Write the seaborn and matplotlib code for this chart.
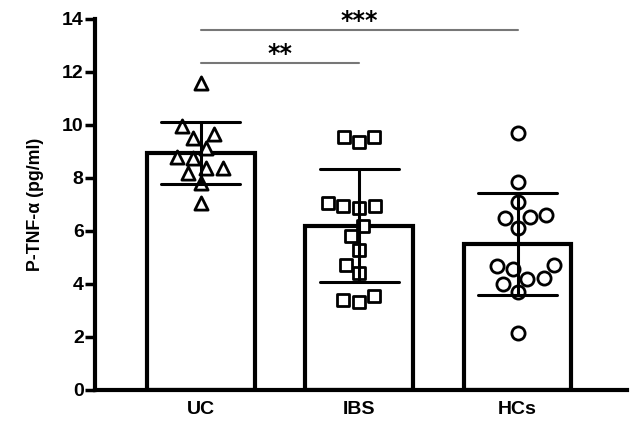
import matplotlib
matplotlib.use('Agg')
import matplotlib.pyplot as plt
import seaborn as sns
import pandas as pd

# values (pg/ml)
groups = ['UC', 'IBS', 'HCs']
markers = ['^', 's', 'o']
uc_values = [11.6, 9.96, 9.66, 9.5, 9.13, 8.75, 8.8, 8.37, 8.18, 8.37, 7.8, 7.05]
ibs_values = [9.55, 9.36, 9.55, 7.05, 6.86, 6.93, 6.93, 6.2, 5.8, 5.3,
              4.73, 4.43, 3.56, 3.3, 3.4]
hcs_values = [9.7, 7.84, 7.08, 6.6, 6.48, 6.52, 6.1, 4.73, 4.55, 4.66,
              4.24, 4.2, 4.0, 3.7, 2.16]
y_ticks = [0, 2, 4, 6, 8, 10, 12, 14]

# significance brackets: (from group, to group, height, label)
brackets = [(0, 1, 12.35, '**'), (0, 2, 13.6, '***')]

df = pd.DataFrame({
    'group': ['UC'] * len(uc_values) + ['IBS'] * len(ibs_values) + ['HCs'] * len(hcs_values),
    'value': uc_values + ibs_values + hcs_values,
})

sns.set_style('ticks', {'axes.edgecolor': 'black', 'text.color': 'black',
                        'axes.labelcolor': 'black', 'xtick.color': 'black',
                        'ytick.color': 'black'})
plt.rcParams['font.family'] = ['Liberation Sans', 'DejaVu Sans']

fig = plt.figure(figsize=(6.32, 4.22), dpi=100)
ax = fig.add_axes([0.150, 0.076, 0.842, 0.879])

sns.barplot(
    data=df, x='group', y='value', order=groups,
    estimator='mean', errorbar='sd', capsize=0.5, width=0.68,
    color='white', edgecolor='black', linewidth=3,
    err_kws={'color': 'black', 'linewidth': 2.2, 'zorder': 5},
    ax=ax
)

for g, m in zip(groups, markers):
    sub = df[df['group'] == g]
    sns.swarmplot(
        data=sub, x='group', y='value', order=groups,
        marker=m, size=9.5 if m != 's' else 9,
        color='white', edgecolor='black', linewidth=2,
        ax=ax, zorder=3
    )

for x0, x1, h, label in brackets:
    ax.plot([x0, x1], [h, h], color='#777777', linewidth=1.5, clip_on=False)
    ax.text((x0 + x1) / 2, h + 0.05, label, ha='center', va='baseline',
            fontsize=17, fontweight='bold', family='DejaVu Sans', clip_on=False)

ax.set_xlim(-0.669, 2.69)
ax.set_ylim(0, 14)
ax.set_yticks(y_ticks)
ax.set_xlabel('')
ax.set_ylabel('P-TNF-α (pg/ml)', fontsize=12.8, fontweight='bold', labelpad=13)

for side in ['top', 'right']:
    ax.spines[side].set_visible(False)
for side in ['left', 'bottom']:
    ax.spines[side].set_linewidth(3)

ax.tick_params(axis='y', length=7, width=2.5, labelsize=14, pad=1)
ax.tick_params(axis='x', length=0, labelsize=14, pad=8)
for lbl in ax.get_xticklabels() + ax.get_yticklabels():
    lbl.set_fontweight('bold')

fig.savefig('out.png', dpi=100)
plt.close(fig)
